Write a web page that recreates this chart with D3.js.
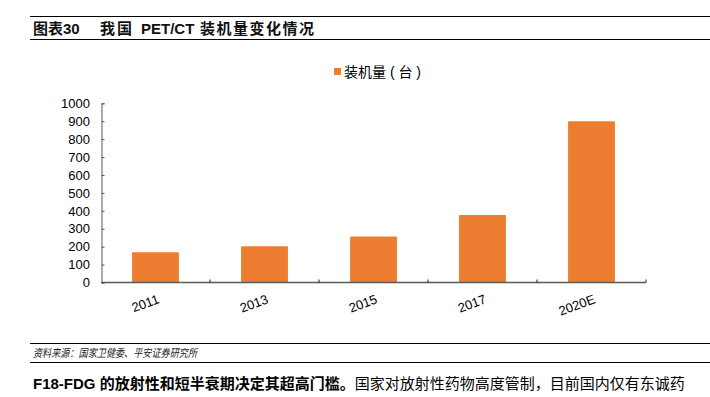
<!DOCTYPE html>
<html>
<head>
<meta charset="utf-8">
<script src="https://cdn.jsdelivr.net/npm/d3@7"></script>
<style>
  html, body { margin: 0; padding: 0; background: #fff; }
  svg { display: block; font-family: "Liberation Sans", Arial, "Noto Sans CJK SC", sans-serif; }
</style>
</head>
<body>
<script>
// data
const years = ['2011', '2013', '2015', '2017', '2020E']
const installs = [169, 202, 256, 377, 900]
const yTicks = [0, 100, 200, 300, 400, 500, 600, 700, 800, 900, 1000]
const seriesName = '装机量 ( 台 )'

const width = 710
const height = 397
const barColor = '#ED7D31'
const axisColor = '#595959'
const font = '"Liberation Sans", Arial, "Noto Sans CJK SC", sans-serif'

const svg = d3.select('body').append('svg')
    .attr('width', width)
    .attr('height', height)
    .attr('font-family', font)

// header
svg.append('line')
    .attr('x1', 30).attr('x2', width).attr('y1', 16.5).attr('y2', 16.5)
    .attr('stroke', '#000').attr('stroke-width', 1)
svg.append('line')
    .attr('x1', 30).attr('x2', width).attr('y1', 39.5).attr('y2', 39.5)
    .attr('stroke', '#000').attr('stroke-width', 1)
const title = svg.append('text')
    .attr('x', 33).attr('y', 34)
    .attr('font-weight', 'bold')
    .attr('font-size', 15)
    .attr('fill', '#111')
title.append('tspan').text('图表30')
title.append('tspan').attr('x', 100).attr('letter-spacing', 2).text('我国')
title.append('tspan').attr('x', 141).text('PET/CT')
title.append('tspan').attr('x', 200).attr('letter-spacing', 1.5).text('装机量变化情况')

// chart area
const x = d3.scaleBand()
    .domain(years)
    .range([101, 646])
    .paddingInner(0.57)
    .paddingOuter(0.285)

const y = d3.scaleLinear()
    .domain([0, 1000])
    .range([282.5, 103.3])

const g = svg.append('g')

g.selectAll('rect.bar')
    .data(years.map((d, i) => ({year: d, value: installs[i]})))
    .join('rect')
    .classed('bar', true)
    .attr('x', d => x(d.year))
    .attr('y', d => y(d.value))
    .attr('width', x.bandwidth())
    .attr('height', d => y(0) - y(d.value))
    .attr('rx', 1)
    .attr('fill', barColor)

// y axis: thin line, ticks pointing inward
const yAxis = g.append('g')
    .attr('transform', 'translate(101.5,0)')
    .call(d3.axisRight(y).tickValues(yTicks).tickSize(3).tickFormat(''))
yAxis.select('.domain').attr('stroke', axisColor).attr('stroke-width', 1)
yAxis.selectAll('.tick line').attr('stroke', axisColor)

g.selectAll('text.ylab')
    .data(yTicks)
    .join('text')
    .classed('ylab', true)
    .attr('x', 90)
    .attr('y', d => y(d))
    .attr('dy', '0.36em')
    .attr('text-anchor', 'end')
    .attr('font-size', 13)
    .attr('fill', '#000')
    .text(d => d)

// x axis: category boundaries as inward ticks
const bounds = years.map(d => x(d) - x.step() * x.paddingInner() / 2).concat([646])
g.append('line')
    .attr('x1', 101).attr('x2', 646)
    .attr('y1', y(0)).attr('y2', y(0))
    .attr('stroke', axisColor).attr('stroke-width', 1.6)
g.selectAll('line.xtick')
    .data(bounds.slice(1))
    .join('line')
    .classed('xtick', true)
    .attr('x1', d => d).attr('x2', d => d)
    .attr('y1', y(0) - 3).attr('y2', y(0))
    .attr('stroke', '#222').attr('stroke-width', 1)

g.selectAll('text.xlab')
    .data(years)
    .join('text')
    .classed('xlab', true)
    .attr('text-anchor', 'end')
    .attr('font-size', 13)
    .attr('fill', '#000')
    .attr('transform', d => `translate(${x(d) + x.bandwidth() / 2 + 3},${y(0) + 16}) rotate(-20)`)
    .attr('dy', '0.35em')
    .text(d => d)

// legend
const legend = svg.append('g').attr('transform', 'translate(334,68)')
legend.append('rect')
    .attr('width', 7).attr('height', 7)
    .attr('fill', barColor)
legend.append('text')
    .attr('x', 10).attr('y', 3.5)
    .attr('dy', '0.36em')
    .attr('font-size', 14)
    .attr('fill', '#000')
    .text(seriesName)

// source + body text
svg.append('line')
    .attr('x1', 30).attr('x2', width).attr('y1', 343.5).attr('y2', 343.5)
    .attr('stroke', '#000').attr('stroke-width', 1)
svg.append('line')
    .attr('x1', 30).attr('x2', width).attr('y1', 362.5).attr('y2', 362.5)
    .attr('stroke', '#000').attr('stroke-width', 1)
svg.append('text')
    .attr('x', 33).attr('y', 357)
    .attr('font-size', 11)
    .attr('font-style', 'italic')
    .attr('fill', '#222')
    .attr('textLength', 164)
    .attr('lengthAdjust', 'spacingAndGlyphs')
    .text('资料来源：国家卫健委、平安证券研究所')

const para = svg.append('text')
    .attr('x', 33).attr('y', 389)
    .attr('font-size', 15)
    .attr('fill', '#000')
para.append('tspan')
    .attr('font-weight', 'bold')
    .text('F18-FDG 的放射性和短半衰期决定其超高门槛。')
para.append('tspan')
    .text('国家对放射性药物高度管制，目前国内仅有东诚药')
</script>
</body>
</html>
